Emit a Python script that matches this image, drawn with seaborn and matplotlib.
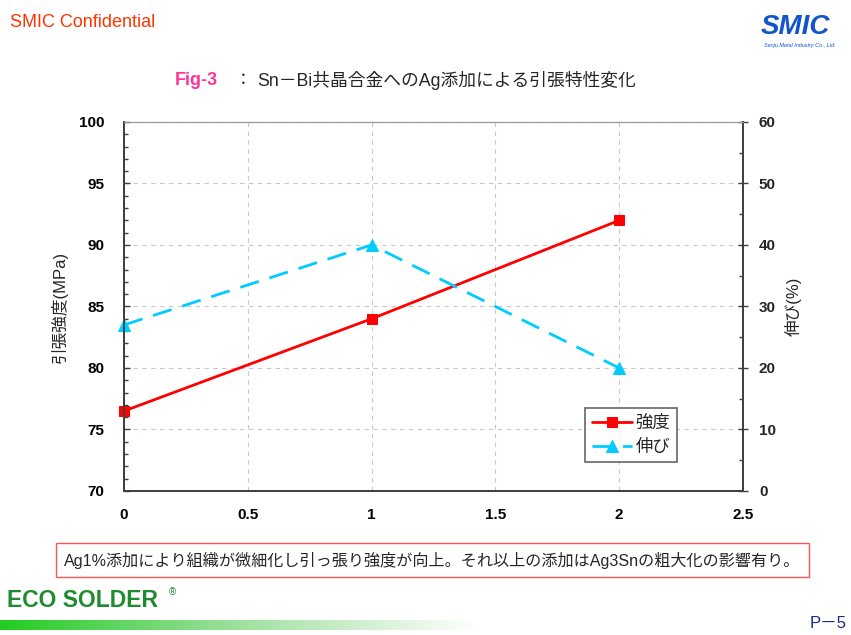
import numpy as np
import pandas as pd
import matplotlib
matplotlib.use("Agg")
import matplotlib.pyplot as plt
import seaborn as sns
from matplotlib.colors import LinearSegmentedColormap
from matplotlib.ticker import MultipleLocator

sns.set_style("white")
plt.rcParams['font.family'] = ['Liberation Sans', 'Noto Sans CJK JP', 'DejaVu Sans']

# data
ag_add = [0, 1, 2]
strength = [76.5, 84.0, 92.0]      # 強度 (MPa)
elongation = [27.0, 40.0, 20.0]    # 伸び (%)

df = pd.DataFrame({"ag": ag_add, "strength": strength, "elong": elongation})

fig = plt.figure(figsize=(8.51, 6.35), dpi=100)
ax = fig.add_axes([0.1457, 0.2268, 0.7273, 0.5811])
ax2 = ax.twinx()

red = "#FF0000"
cyan = "#00CCFF"

sns.lineplot(data=df, x="ag", y="strength", ax=ax, color=red, lw=2,
             marker="s", markersize=7, markeredgecolor=red, label="強度", legend=False,
             clip_on=False)
sns.lineplot(data=df, x="ag", y="elong", ax=ax2, color=cyan, lw=2,
             marker="^", markersize=8, markeredgecolor=cyan, label="伸び", legend=False,
             clip_on=False)
ax2.lines[0].set_dashes([7, 4])

ax.set_xlim(0, 2.5)
ax.set_ylim(70, 100)
ax2.set_ylim(0, 60)
ax.set_xticks([0, 0.5, 1, 1.5, 2, 2.5])
ax.set_xticklabels(["0", "0.5", "1", "1.5", "2", "2.5"])
ax.set_yticks(range(70, 101, 5))
ax.yaxis.set_minor_locator(MultipleLocator(1))
ax2.set_yticks(range(0, 61, 10))
ax2.yaxis.set_minor_locator(MultipleLocator(5))

ax.grid(True, which="major", color="#C8C8C8", ls=(0, (4, 4)), lw=0.8)
ax.set_axisbelow(True)
dark = "#404040"
for a in (ax, ax2):
    for name, s in a.spines.items():
        s.set_color("#999999" if name == "top" else dark)
        s.set_linewidth(0.8 if name == "top" else 1.3)
ax.tick_params(axis="y", which="major", direction="in", length=4, width=1, color=dark,
               labelsize=11, colors="black", left=True, pad=14)
ax.tick_params(axis="y", which="minor", direction="in", length=3, width=1, color=dark, left=True)
ax.tick_params(axis="x", length=0, labelsize=11, pad=12, colors="black")
ax2.tick_params(axis="y", which="major", direction="inout", length=7, width=1, color=dark,
                labelsize=11, right=True, pad=8)
ax2.tick_params(axis="y", which="minor", direction="in", length=3, width=1, color=dark, right=True)
for lab in ax.get_xticklabels() + ax.get_yticklabels() + ax2.get_yticklabels():
    lab.set_fontweight("bold")

ax.set_xlabel("")
ax.set_ylabel("引張強度(MPa)", fontsize=12, labelpad=8)
ax2.set_ylabel("伸び(%)", fontsize=12, labelpad=6)

h1, l1 = ax.get_legend_handles_labels()
h2, l2 = ax2.get_legend_handles_labels()
leg = ax2.legend(h1 + h2, l1 + l2, loc="upper left", bbox_to_anchor=(0.745, 0.225),
                 borderaxespad=0, fontsize=12.5, frameon=True, fancybox=False,
                 handlelength=2.3, borderpad=0.4, labelspacing=0.45, handletextpad=0.2)
leg.get_frame().set_edgecolor(dark)
leg.get_frame().set_linewidth(1.2)

# header
fig.text(0.012, 0.965, "SMIC Confidential", color="#FF3300", fontsize=13, va="center")
fig.text(0.975, 0.958, "SMIC", color="#1155CC", fontsize=20, fontweight="bold",
         style="italic", ha="right", va="center")
fig.text(0.982, 0.928, "Senju Metal Industry Co., Ltd.", color="#1155CC", fontsize=4,
         ha="right", va="center", style="italic")

# title
fig.text(0.205, 0.874, "Fig-3", color="#FF3399", fontsize=13, fontweight="bold", va="center")
fig.text(0.276, 0.874, "：", fontsize=12, va="center")
fig.text(0.302, 0.874, "Sn－Bi共晶合金へのAg添加による引張特性変化", fontsize=12.8, va="center")

# note box
fig.text(0.508, 0.118, "Ag1%添加により組織が微細化し引っ張り強度が向上。それ以上の添加はAg3Snの粗大化の影響有り。",
         fontsize=11.6, ha="center", va="center",
         bbox=dict(boxstyle="square,pad=0.5", fc="white", ec="#FF5555", lw=1))

# footer
fig.text(0.008, 0.055, "ECO SOLDER", color="#1E8C2E", fontsize=16.5, fontweight="bold", va="center")
fig.text(0.198, 0.068, "®", color="#1E8C2E", fontsize=7, va="center")
gax = fig.add_axes([0.0, 0.008, 0.56, 0.016])
cmap = LinearSegmentedColormap.from_list("g", ["#22CC22", "#9FE09F", "#FFFFFF"])
gax.imshow(np.linspace(0, 1, 256).reshape(1, -1), aspect="auto", cmap=cmap)
gax.axis("off")
fig.text(0.995, 0.018, "P－5", color="#1A2A8A", fontsize=12, ha="right", va="center")

fig.savefig("out.png", dpi=100)
